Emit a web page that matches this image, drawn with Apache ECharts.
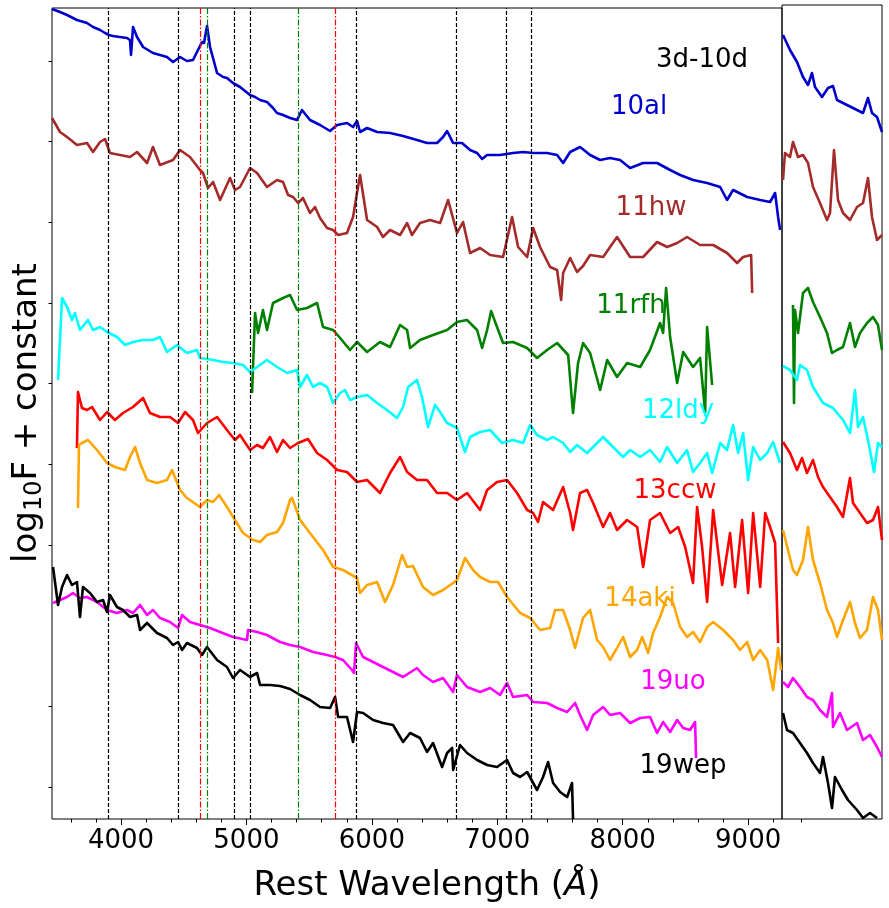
<!DOCTYPE html>
<html><head><meta charset="utf-8">
<script src="https://cdn.jsdelivr.net/npm/echarts@6/dist/echarts.min.js"></script>
<style>html,body{margin:0;padding:0;background:#fff}#c{width:889px;height:908px}</style>
</head><body><div id="c"></div>
<script>
// ---- data: [rest wavelength (Å), log10F + constant] ----
const sn10al = [[3450,8.10],[3514,8.07],[3570,8.04],[3649,7.99],[3729,7.96],[3777,7.92],[3833,7.89],[3873,7.86],[3905,7.84],[3936,7.83],[3992,7.82],[4048,7.81],[4072,7.79],[4080,7.64],[4096,7.92],[4128,7.82],[4176,7.72],[4255,7.66],[4311,7.64],[4367,7.62],[4415,7.57],[4471,7.62],[4526,7.58],[4574,7.59],[4614,7.69],[4646,7.77],[4662,7.76],[4686,7.93],[4710,7.72],[4766,7.46],[4814,7.42],[4845,7.41],[4893,7.36],[4949,7.32],[5029,7.24],[5069,7.22],[5109,7.19],[5164,7.17],[5212,7.11],[5244,7.06],[5292,7.04],[5348,7.01],[5404,6.99],[5443,7.09],[5507,6.99],[5587,6.94],[5667,6.88],[5723,6.94],[5802,6.96],[5850,6.92],[5882,6.98],[5906,6.87],[5962,6.91],[6042,6.87],[6145,6.86],[6249,6.83],[6360,6.79],[6440,6.76],[6520,6.76],[6568,6.82],[6600,6.88],[6648,6.76],[6719,6.76],[6783,6.69],[6839,6.66],[6879,6.60],[6919,6.64],[7022,6.64],[7126,6.66],[7206,6.67],[7286,6.66],[7397,6.66],[7477,6.64],[7525,6.56],[7581,6.67],[7660,6.72],[7740,6.64],[7820,6.59],[7899,6.61],[7979,6.59],[8059,6.51],[8163,6.56],[8274,6.56],[8378,6.49],[8458,6.44],[8561,6.39],[8673,6.36],[8777,6.32],[8832,6.19],[8880,6.29],[8992,6.22],[9096,6.19],[9175,6.17],[9215,6.26],[9239,6.02],[9255,5.89]];
const sn11hw = [[3450,7.01],[3514,6.87],[3570,6.82],[3649,6.74],[3729,6.76],[3777,6.67],[3833,6.77],[3873,6.80],[3912,6.66],[3992,6.64],[4072,6.62],[4128,6.67],[4208,6.56],[4255,6.72],[4311,6.54],[4415,6.59],[4471,6.69],[4550,6.62],[4630,6.49],[4654,6.46],[4694,6.31],[4734,6.37],[4790,6.19],[4869,6.41],[4909,6.29],[4949,6.32],[5029,6.51],[5085,6.46],[5164,6.32],[5244,6.39],[5292,6.37],[5332,6.24],[5372,6.22],[5412,6.16],[5451,6.21],[5507,6.06],[5547,6.12],[5587,6.01],[5643,5.91],[5691,5.89],[5731,5.84],[5802,5.86],[5850,6.02],[5906,6.44],[5962,5.99],[6042,5.92],[6089,5.82],[6145,5.89],[6225,5.84],[6281,5.96],[6320,5.84],[6384,5.96],[6464,5.99],[6544,5.96],[6608,6.19],[6679,5.86],[6727,5.97],[6783,5.66],[6863,5.71],[6943,5.64],[7046,5.62],[7118,6.02],[7166,5.72],[7238,5.62],[7286,5.91],[7341,5.72],[7421,5.52],[7477,5.49],[7509,5.19],[7525,5.46],[7581,5.61],[7636,5.47],[7684,5.53],[7740,5.64],[7844,5.62],[7955,5.82],[8059,5.62],[8163,5.62],[8274,5.77],[8354,5.72],[8434,5.76],[8513,5.82],[8617,5.74],[8721,5.74],[8832,5.66],[8912,5.56],[8960,5.62],[9024,5.64],[9032,5.26]];
const sn11rfh = [[5045,4.26],[5069,5.06],[5093,4.86],[5132,5.09],[5164,4.89],[5212,5.16],[5292,5.21],[5348,5.24],[5404,5.09],[5483,5.11],[5563,5.16],[5611,4.92],[5691,4.89],[5747,4.81],[5826,4.69],[5882,4.77],[5962,4.67],[6065,4.77],[6145,4.72],[6225,4.94],[6281,4.89],[6305,4.71],[6384,4.79],[6488,4.84],[6600,4.89],[6679,4.97],[6759,4.99],[6839,4.89],[6879,4.71],[6919,4.89],[6951,5.08],[6998,4.92],[7046,4.76],[7126,4.77],[7238,4.71],[7317,4.61],[7397,4.69],[7477,4.76],[7565,4.64],[7604,4.06],[7644,4.56],[7684,4.76],[7740,4.66],[7820,4.29],[7876,4.59],[7955,4.42],[8035,4.56],[8139,4.52],[8218,4.69],[8298,4.96],[8322,4.86],[8346,5.31],[8378,4.82],[8434,4.36],[8482,4.67],[8561,4.52],[8617,4.61],[8657,4.07],[8673,4.92],[8713,4.34]];
const sn12ldy = [[3498,4.39],[3530,5.21],[3570,5.12],[3609,4.99],[3633,5.06],[3673,4.89],[3737,4.99],[3777,4.89],[3833,4.92],[3889,4.87],[3968,4.82],[4032,4.74],[4096,4.77],[4176,4.79],[4255,4.79],[4311,4.82],[4367,4.67],[4447,4.74],[4526,4.66],[4606,4.69],[4630,4.61],[4734,4.59],[4814,4.57],[4893,4.56],[4973,4.54],[5029,4.47],[5085,4.52],[5164,4.59],[5244,4.52],[5324,4.46],[5404,4.49],[5428,4.32],[5483,4.44],[5531,4.32],[5587,4.36],[5643,4.32],[5691,4.16],[5747,4.26],[5786,4.29],[5826,4.19],[5882,4.22],[5962,4.24],[6042,4.16],[6121,4.09],[6201,4.01],[6249,4.12],[6289,4.32],[6360,4.39],[6400,4.22],[6448,3.92],[6504,4.14],[6544,4.07],[6600,3.96],[6679,3.91],[6743,3.67],[6783,3.82],[6863,3.87],[6943,3.89],[7038,3.76],[7126,3.79],[7206,3.76],[7262,3.94],[7317,3.84],[7397,3.79],[7445,3.82],[7525,3.76],[7581,3.67],[7636,3.74],[7716,3.66],[7764,3.72],[7844,3.82],[7923,3.72],[8003,3.62],[8059,3.69],[8139,3.62],[8218,3.69],[8298,3.57],[8354,3.72],[8434,3.56],[8513,3.69],[8561,3.47],[8617,3.56],[8673,3.66],[8713,3.46],[8777,3.76],[8832,3.69],[8880,3.94],[8920,3.66],[8960,3.86],[9000,3.39],[9040,3.72],[9096,3.59],[9152,3.66],[9199,3.77],[9255,3.56]];
const sn13ccw = [[3649,3.71],[3657,4.27],[3689,4.11],[3729,4.09],[3769,4.12],[3833,3.99],[3889,4.07],[3952,3.99],[4016,4.06],[4096,4.12],[4176,4.21],[4231,4.06],[4311,4.02],[4391,4.02],[4455,3.96],[4511,4.07],[4574,3.99],[4614,3.86],[4686,3.96],[4766,4.02],[4845,3.89],[4909,3.79],[4949,3.84],[5029,3.69],[5085,3.74],[5132,3.71],[5188,3.82],[5244,3.67],[5292,3.79],[5348,3.71],[5412,3.76],[5491,3.80],[5563,3.66],[5643,3.59],[5723,3.49],[5802,3.47],[5882,3.37],[5962,3.39],[6065,3.26],[6145,3.46],[6225,3.62],[6281,3.47],[6360,3.39],[6440,3.39],[6520,3.26],[6600,3.26],[6679,3.19],[6759,3.26],[6863,3.09],[6919,3.29],[6998,3.37],[7078,3.39],[7158,3.26],[7238,3.09],[7286,3.06],[7325,2.97],[7365,3.17],[7445,3.09],[7525,3.32],[7581,3.06],[7604,2.89],[7660,3.26],[7716,3.29],[7764,3.16],[7844,2.92],[7899,3.06],[7955,2.89],[8035,2.99],[8115,2.92],[8163,2.52],[8218,2.99],[8298,3.06],[8378,2.86],[8442,2.92],[8498,2.72],[8561,2.36],[8593,3.12],[8633,2.72],[8673,2.17],[8721,3.09],[8793,2.34],[8856,2.86],[8896,2.32],[8952,2.99],[9000,2.26],[9040,3.06],[9096,2.32],[9136,3.06],[9175,2.92],[9215,2.76],[9239,1.76]];
const sn14aki = [[3657,3.11],[3665,3.74],[3689,3.76],[3737,3.79],[3809,3.69],[3889,3.56],[3952,3.52],[4032,3.49],[4072,3.62],[4112,3.72],[4152,3.56],[4208,3.39],[4287,3.36],[4367,3.39],[4407,3.49],[4471,3.29],[4526,3.21],[4630,3.12],[4686,3.19],[4734,3.17],[4782,3.24],[4845,3.12],[4909,2.99],[4973,2.86],[5053,2.79],[5109,2.77],[5164,2.84],[5244,2.87],[5292,2.96],[5348,3.19],[5364,3.21],[5428,2.99],[5531,2.82],[5611,2.69],[5691,2.52],[5770,2.49],[5882,2.41],[5906,2.26],[5962,2.34],[6042,2.37],[6105,2.17],[6169,2.34],[6241,2.64],[6281,2.52],[6328,2.53],[6408,2.32],[6488,2.24],[6568,2.29],[6648,2.36],[6679,2.39],[6743,2.61],[6807,2.49],[6863,2.42],[6943,2.37],[7006,2.37],[7078,2.22],[7182,2.06],[7262,2.01],[7341,1.89],[7421,1.91],[7461,2.09],[7525,2.09],[7581,1.89],[7620,1.71],[7684,2.01],[7740,2.09],[7796,1.79],[7844,1.72],[7899,1.59],[7955,1.71],[8003,1.82],[8059,1.62],[8115,1.69],[8155,1.82],[8203,1.66],[8242,1.86],[8298,2.02],[8354,2.22],[8402,2.16],[8458,1.92],[8513,1.82],[8561,1.87],[8617,1.77],[8673,1.92],[8721,1.97],[8801,1.89],[8880,1.79],[8936,1.69],[8992,1.77],[9040,1.59],[9096,1.69],[9152,1.59],[9199,1.29],[9239,1.71],[9263,1.49]];
const sn19uo = [[3458,2.16],[3514,2.19],[3570,2.22],[3617,2.26],[3673,2.21],[3729,2.22],[3809,2.17],[3889,2.09],[3968,2.06],[4048,2.09],[4096,2.06],[4152,2.14],[4208,2.04],[4255,2.09],[4311,2.01],[4391,1.97],[4455,1.91],[4487,2.04],[4550,1.97],[4630,1.94],[4710,1.91],[4790,1.87],[4893,1.82],[5005,1.79],[5013,1.89],[5085,1.87],[5164,1.84],[5268,1.77],[5348,1.74],[5428,1.72],[5531,1.67],[5643,1.64],[5707,1.62],[5770,1.59],[5842,1.49],[5858,1.46],[5874,1.76],[5930,1.62],[6010,1.57],[6089,1.52],[6169,1.47],[6249,1.42],[6360,1.51],[6408,1.44],[6488,1.37],[6568,1.41],[6648,1.27],[6679,1.44],[6759,1.32],[6863,1.27],[6943,1.31],[7022,1.24],[7078,1.36],[7126,1.22],[7238,1.24],[7286,1.17],[7397,1.16],[7477,1.11],[7557,1.07],[7620,1.16],[7660,1.04],[7716,0.89],[7764,1.04],[7844,1.12],[7899,1.04],[7979,1.06],[8059,0.96],[8139,1.01],[8218,1.02],[8274,0.86],[8322,0.97],[8378,0.87],[8434,0.99],[8482,0.91],[8537,0.89],[8577,0.97],[8585,0.61]];
const sn19wep = [[3458,2.52],[3474,2.37],[3498,2.14],[3530,2.32],[3570,2.44],[3609,2.34],[3649,2.37],[3673,2.02],[3697,2.32],[3753,2.26],[3809,2.17],[3857,2.19],[3889,2.07],[3912,2.24],[3968,2.12],[4016,2.09],[4072,2.02],[4128,2.04],[4152,1.89],[4208,1.96],[4287,1.86],[4367,1.81],[4415,1.74],[4455,1.77],[4487,1.69],[4526,1.76],[4606,1.71],[4646,1.64],[4686,1.72],[4766,1.59],[4845,1.52],[4893,1.41],[4949,1.49],[5029,1.42],[5085,1.46],[5109,1.34],[5188,1.34],[5268,1.33],[5348,1.30],[5428,1.24],[5507,1.19],[5587,1.12],[5667,1.11],[5707,1.22],[5731,1.02],[5802,1.02],[5850,0.77],[5882,1.07],[5930,1.06],[6010,0.99],[6089,0.96],[6169,0.94],[6249,0.77],[6305,0.86],[6384,0.81],[6440,0.67],[6488,0.76],[6560,0.52],[6600,0.66],[6640,0.71],[6648,0.49],[6703,0.74],[6759,0.66],[6839,0.59],[6919,0.54],[6998,0.52],[7078,0.59],[7126,0.46],[7182,0.42],[7238,0.47],[7317,0.29],[7365,0.42],[7405,0.57],[7445,0.36],[7501,0.27],[7557,0.22],[7596,0.36],[7604,0.0]];
// right-hand panel
const sn10alR = [[9258,7.84],[9314,7.69],[9370,7.57],[9418,7.42],[9458,7.34],[9490,7.46],[9514,7.32],[9570,7.22],[9618,7.31],[9658,7.33],[9690,7.19],[9770,7.14],[9850,7.09],[9898,7.06],[9938,7.21],[9970,7.06],[10010,7.02],[10050,6.87]];
const sn11hwR = [[9258,6.39],[9274,6.66],[9314,6.62],[9338,6.77],[9378,6.62],[9418,6.64],[9458,6.56],[9498,6.32],[9554,6.16],[9610,5.99],[9634,6.06],[9666,6.69],[9698,6.19],[9738,6.06],[9794,5.99],[9850,6.12],[9898,6.16],[9938,6.41],[9970,6.02],[10010,5.79],[10050,5.84]];
const sn11rfhR = [[9338,5.14],[9346,4.16],[9354,5.09],[9378,4.86],[9418,5.26],[9458,5.31],[9498,5.17],[9554,5.02],[9610,4.86],[9650,4.66],[9690,4.69],[9738,4.72],[9794,4.96],[9834,4.72],[9874,4.86],[9930,4.96],[9978,5.02],[10018,4.94],[10050,4.69]];
const sn12ldyR = [[9258,4.53],[9314,4.49],[9370,4.39],[9394,4.54],[9450,4.49],[9498,4.32],[9578,4.16],[9658,4.11],[9738,3.99],[9794,3.86],[9834,4.29],[9858,3.92],[9898,4.02],[9938,3.79],[9986,3.47],[10018,3.76],[10050,3.72]];
const sn13ccwR = [[9258,3.77],[9314,3.66],[9370,3.49],[9410,3.61],[9450,3.46],[9498,3.59],[9538,3.42],[9578,3.32],[9634,3.22],[9690,3.12],[9738,3.02],[9794,3.41],[9818,3.16],[9874,3.06],[9930,2.96],[9978,2.99],[10018,3.12],[10050,2.79]];
const sn14akiR = [[9258,2.89],[9298,2.69],[9338,2.49],[9370,2.44],[9418,2.59],[9458,2.92],[9498,2.59],[9554,2.36],[9610,2.09],[9658,1.96],[9690,1.82],[9730,1.96],[9794,2.17],[9834,1.96],[9874,1.81],[9930,1.89],[9978,2.22],[10018,2.09],[10050,1.79]];
const sn19uoR = [[9258,1.37],[9298,1.32],[9338,1.41],[9394,1.32],[9450,1.22],[9498,1.19],[9554,1.09],[9610,1.02],[9650,1.26],[9658,0.92],[9714,1.06],[9770,0.89],[9850,0.96],[9898,0.79],[9954,0.84],[10010,0.72],[10050,0.62]];
const sn19wepR = [[9258,1.06],[9290,0.89],[9338,0.86],[9394,0.76],[9450,0.66],[9498,0.56],[9554,0.46],[9578,0.62],[9618,0.36],[9650,0.11],[9674,0.42],[9730,0.29],[9778,0.19],[9850,0.09],[9898,0.01],[9954,0.06],[10010,0.01]];
// line markers (Å)
const heILines = [3902, 4457, 4904, 5031, 5877, 6674, 7072, 7272];
const redLines = [4632, 5711];
const greenLines = [4688, 5416];
// axis ticks
const xMajorTicks = [4000, 5000, 6000, 7000, 8000, 9000];
const xMinorTicks = [3600,3800,4200,4400,4600,4800,5200,5400,5600,5800,6200,6400,6600,6800,7200,7400,7600,7800,8200,8400,8600,8800,9200];
const yTicks = [7.58, 6.773, 5.967, 5.16, 4.353, 3.547, 2.74, 1.127, 0.32];
const xRightTicks = [9400];
const names = ['10al','11hw','11rfh','12ldy','13ccw','14aki','19uo','19wep'];
const mainData = [sn10al, sn11hw, sn11rfh, sn12ldy, sn13ccw, sn14aki, sn19uo, sn19wep];
const rightData = [sn10alR, sn11hwR, sn11rfhR, sn12ldyR, sn13ccwR, sn14akiR, sn19uoR, sn19wepR];
const epochLabel = '3d-10d';

// ---- styles ----
const colors = ['#0000cd','#a52a2a','#008000','#00ffff','#ff0000','#ffa500','#ff00ff','#000000'];
const labelPos = [[639,107],[651,208],[631,306],[678,411],[675,491],[640,599],[673,682],[683,766]];
const FF = '"DejaVu Sans", sans-serif';
const LW = 2.6;

const chart = echarts.init(document.getElementById('c'), null, {renderer:'canvas'});
const series = [];
series.push({
  type:'line', xAxisIndex:0, yAxisIndex:0, data:[], z:1, silent:true,
  markLine:{
    silent:true, symbol:['none','none'], label:{show:false}, animation:false,
    data: [
      ...heILines.map(v=>({xAxis:v, lineStyle:{color:'#000', width:1.2, type:[4,2]}})),
      ...redLines.map(v=>({xAxis:v, lineStyle:{color:'#ff0000', width:1.2, type:[6,2,1.5,2]}})),
      ...greenLines.map(v=>({xAxis:v, lineStyle:{color:'#008000', width:1.2, type:[6,2,1.5,2]}}))
    ]
  }
});
mainData.forEach((d,i)=>series.push({type:'line', name:names[i], xAxisIndex:0, yAxisIndex:0, data:d, showSymbol:false, symbol:'none', z:2, lineStyle:{color:colors[i], width:LW, join:'round'}, clip:true}));
rightData.forEach((d,i)=>series.push({type:'line', name:names[i]+'R', xAxisIndex:2, yAxisIndex:1, data:d, showSymbol:false, symbol:'none', z:2, lineStyle:{color:colors[i], width:LW, join:'round'}, clip:true}));

const graphics = names.map((n,i)=>({type:'text', x:labelPos[i][0], y:labelPos[i][1], z:10,
  style:{text:n, fill:colors[i], fontSize:26, fontFamily:FF, align:'center', verticalAlign:'middle', textAlign:'center', textVerticalAlign:'middle'}}));
graphics.push({type:'text', x:702, y:60, z:10, style:{text:epochLabel, fill:'#000', fontSize:26, fontFamily:FF, align:'center', verticalAlign:'middle', textAlign:'center', textVerticalAlign:'middle'}});
graphics.push({type:'text', x:427, y:886, z:10, style:{
  text:'{a|Rest Wavelength (}{i|Å}{a|)}', fill:'#000', fontFamily:FF, fontSize:34, align:'center', verticalAlign:'middle', textAlign:'center', textVerticalAlign:'middle',
  rich:{a:{fontSize:34, fontFamily:FF, fill:'#000'}, i:{fontSize:34, fontFamily:FF, fontStyle:'italic', fill:'#000'}}}});
graphics.push({type:'text', x:27, y:413, rotation:Math.PI/2, z:10, style:{
  text:'{a|log}{s|10}{a|F + constant}', fill:'#000', fontFamily:FF, fontSize:34, align:'center', verticalAlign:'middle', textAlign:'center', textVerticalAlign:'middle',
  rich:{a:{fontSize:34, lineHeight:40, fontFamily:FF, fill:'#000'}, s:{fontSize:24, lineHeight:20, verticalAlign:'bottom', fontFamily:FF, fill:'#000'}}}});

chart.setOption({
  animation:false,
  backgroundColor:'#fff',
  grid:[
    {left:52, top:8, width:730, height:811, show:true, borderColor:'#000', borderWidth:1, backgroundColor:'transparent'},
    {left:782, top:5, width:100, height:814, show:true, borderColor:'#000', borderWidth:1, backgroundColor:'transparent'}
  ],
  xAxis:[
    {type:'value', gridIndex:0, min:3450, max:9270, position:'bottom', axisLine:{show:false, onZero:false},
     axisTick:{show:true, inside:false, length:6, customValues:xMajorTicks, lineStyle:{color:'#000', width:1}},
     axisLabel:{show:true, customValues:xMajorTicks, fontSize:26, fontFamily:FF, color:'#000', margin:9, formatter:(v)=>String(v)},
     splitLine:{show:false}},
    {type:'value', gridIndex:0, min:3450, max:9270, position:'bottom', axisLine:{show:false, onZero:false},
     axisTick:{show:true, inside:false, length:3.5, customValues:xMinorTicks, lineStyle:{color:'#000', width:1}},
     axisLabel:{show:false}, splitLine:{show:false}},
    {type:'value', gridIndex:1, min:9250, max:10050, position:'bottom', axisLine:{show:false, onZero:false},
     axisTick:{show:true, inside:false, length:3.5, customValues:xRightTicks, lineStyle:{color:'#000', width:1}},
     axisLabel:{show:false}, splitLine:{show:false}}
  ],
  yAxis:[
    {type:'value', gridIndex:0, min:0, max:8.11, position:'left', axisLine:{show:false, onZero:false},
     axisTick:{show:true, inside:false, length:3.5, customValues:yTicks, lineStyle:{color:'#000', width:1}},
     axisLabel:{show:false}, splitLine:{show:false}},
    {type:'value', gridIndex:1, min:0, max:8.14, position:'left', axisLine:{show:false, onZero:false},
     axisTick:{show:false}, axisLabel:{show:false}, splitLine:{show:false}}
  ],
  series: series,
  graphic: graphics
});
</script>
</body></html>
